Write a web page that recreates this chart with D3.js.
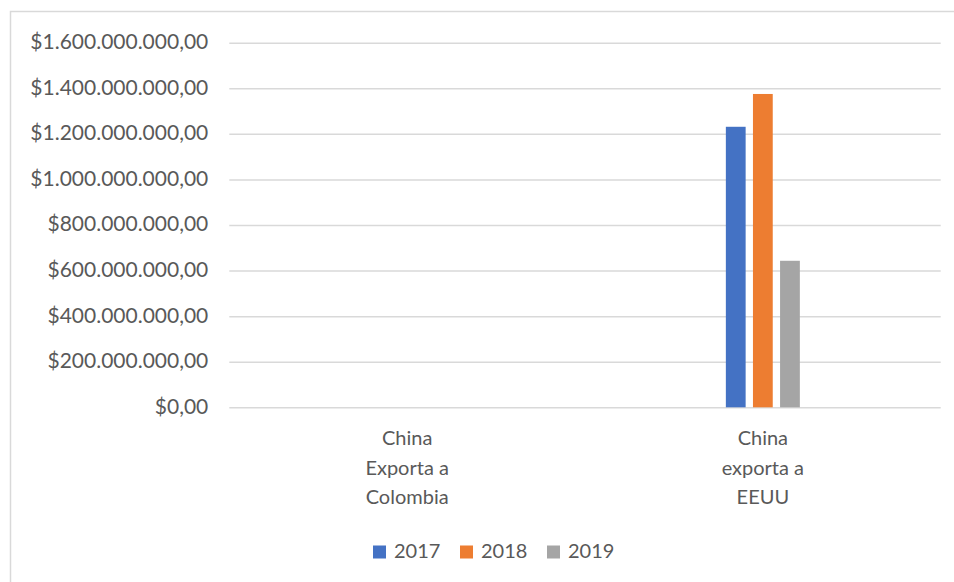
<!DOCTYPE html>
<html>
<head>
<meta charset="utf-8">
<script src="https://cdn.jsdelivr.net/npm/d3@7"></script>
<style>
  html, body { margin: 0; padding: 0; background: #ffffff; }
  svg { display: block; }
  text { font-family: Lato, "Open Sans", sans-serif; fill: #595959; }
</style>
</head>
<body>
<svg id="chart" width="954" height="582"></svg>
<script>
// ---- data ----
const categories = ["China Exporta a Colombia", "China exporta a EEUU"];
const categoryLines = [["China", "Exporta a", "Colombia"], ["China", "exporta a", "EEUU"]];
const years = ["2017", "2018", "2019"];
const values2017 = [0, 1231000000];
const values2018 = [0, 1375000000];
const values2019 = [0, 643000000];
const tickValues = [0, 200000000, 400000000, 600000000, 800000000, 1000000000, 1200000000, 1400000000, 1600000000];
const colors = ["#4472C4", "#ED7D31", "#A5A5A5"];

const seriesValues = [values2017, values2018, values2019];

// ---- layout ----
const W = 954, H = 582;
const plot = { left: 229.3, right: 940.7, top: 42.7, bottom: 407.3 };

const svg = d3.select("#chart");

// chart border (right & bottom edges fall outside the view)
svg.append("rect")
  .attr("x", 10.5).attr("y", 11.5)
  .attr("width", 1000).attr("height", 1000)
  .attr("fill", "#ffffff")
  .attr("stroke", "#d9d9d9")
  .attr("stroke-width", 1.5);

const y = d3.scaleLinear().domain([0, 1600000000]).range([plot.bottom, plot.top]);
const x0 = d3.scaleBand().domain(categories).range([plot.left, plot.right]).padding(0);
const bw = x0.bandwidth();
const x1 = d3.scaleBand().domain(years).range([bw / 2 - 37, bw / 2 + 37]).paddingInner(0.27);

const locale = d3.formatLocale({ decimal: ",", thousands: ".", grouping: [3], currency: ["$", ""] });
const fmt = locale.format("$,.2f");

// y axis with gridlines
const yAxis = d3.axisLeft(y)
  .tickValues(tickValues)
  .tickSize(-(plot.right - plot.left))
  .tickPadding(21)
  .tickFormat(fmt);

const gy = svg.append("g")
  .attr("transform", `translate(${plot.left},0)`)
  .call(yAxis);
gy.select(".domain").remove();
gy.selectAll(".tick line")
  .attr("stroke", "#d9d9d9")
  .attr("stroke-width", 1.5);
gy.selectAll(".tick text")
  .attr("fill", "#595959")
  .style("font-size", "21px")
  .attr("dy", "0.28em");

// bars
const data = [];
categories.forEach((c, ci) => {
  years.forEach((yr, si) => {
    data.push({ cat: c, year: yr, value: seriesValues[si][ci], color: colors[si] });
  });
});

svg.append("g").selectAll("rect")
  .data(data)
  .join("rect")
  .attr("x", d => x0(d.cat) + x1(d.year))
  .attr("y", d => y(d.value))
  .attr("width", x1.bandwidth())
  .attr("height", d => y(0) - y(d.value))
  .attr("fill", d => d.color);

// category labels
const labelY = [438, 468, 497];
const gl = svg.append("g");
categories.forEach((c, ci) => {
  const t = gl.append("text")
    .attr("text-anchor", "middle")
    .style("font-size", "20px");
  categoryLines[ci].forEach((ln, li) => {
    t.append("tspan")
      .attr("x", x0(c) + bw / 2)
      .attr("y", labelY[li])
      .attr("dy", "0.35em")
      .text(ln);
  });
});

// legend
const legendX = [373, 460, 547];
const lg = svg.append("g");
years.forEach((yr, i) => {
  lg.append("rect")
    .attr("x", legendX[i]).attr("y", 545.5)
    .attr("width", 13).attr("height", 13)
    .attr("fill", colors[i]);
  lg.append("text")
    .attr("x", legendX[i] + 21)
    .attr("y", 551)
    .attr("dy", "0.35em")
    .style("font-size", "20px")
    .text(yr);
});
</script>
</body>
</html>
